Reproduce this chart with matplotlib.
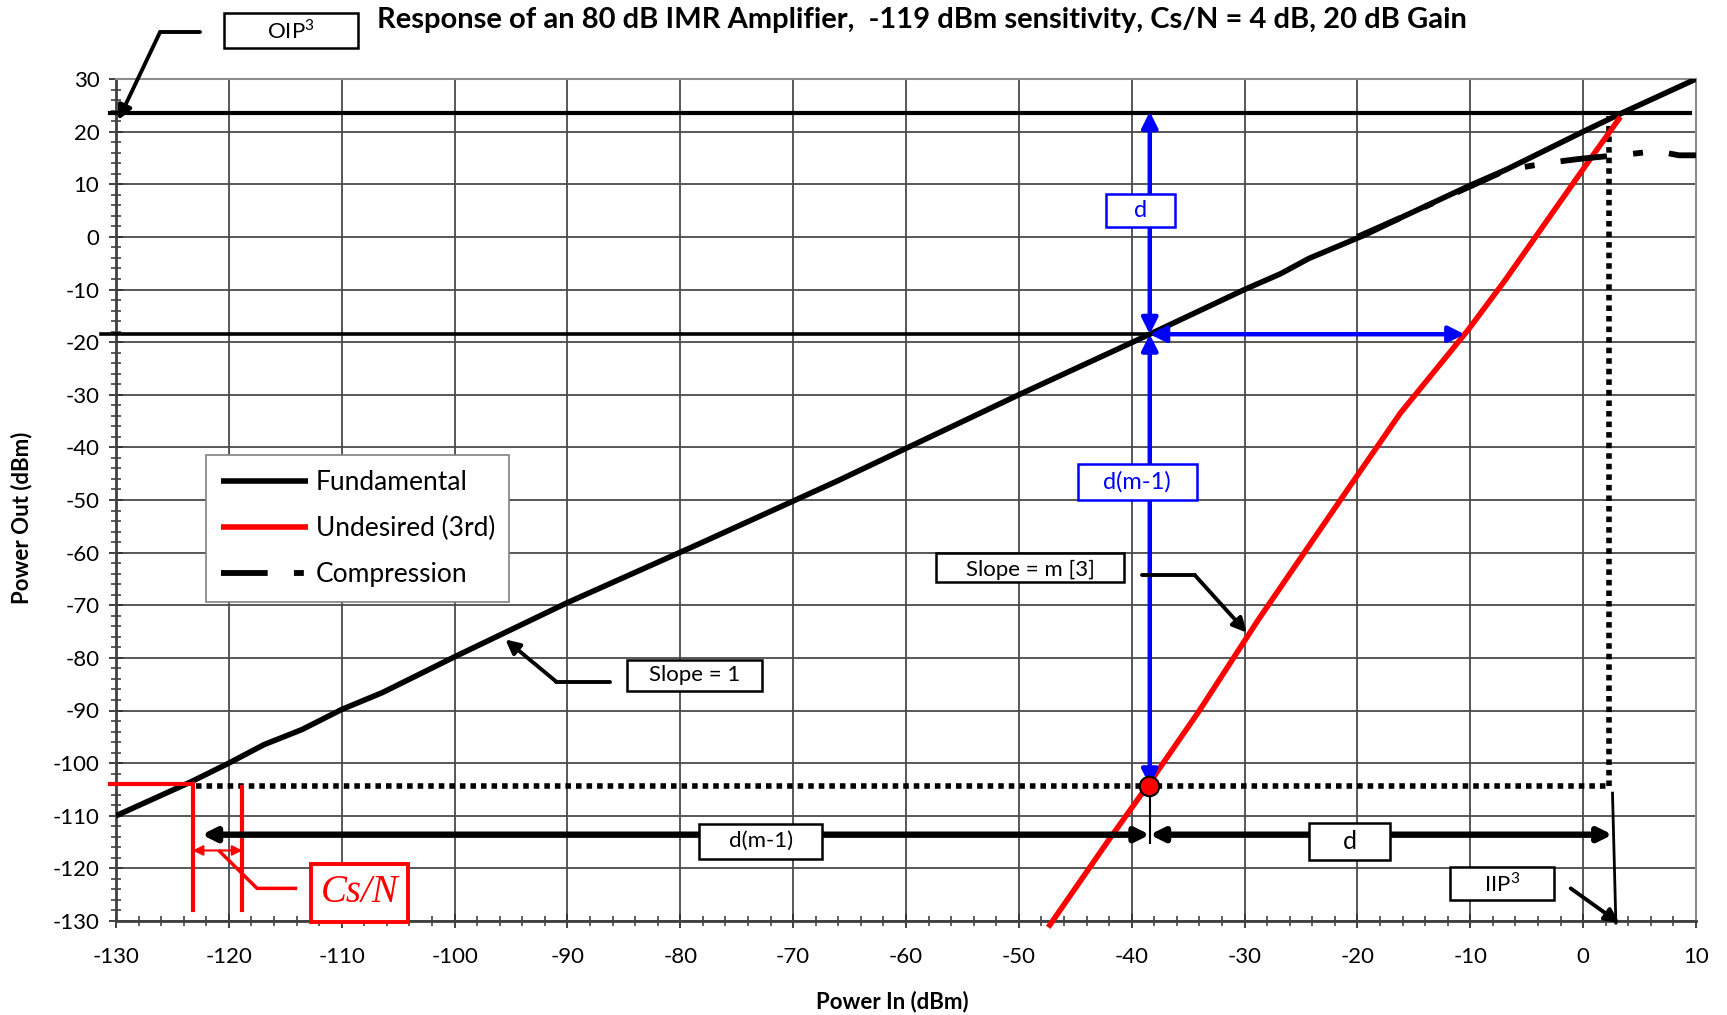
import matplotlib
matplotlib.use("Agg")
import matplotlib.pyplot as plt
from matplotlib.patches import Rectangle
from matplotlib.lines import Line2D
from matplotlib.ticker import MultipleLocator

plt.rcParams['font.family'] = ['Lato', 'DejaVu Sans']
plt.rcParams['axes.unicode_minus'] = False
plt.rcParams['mathtext.fontset'] = 'custom'
plt.rcParams['mathtext.rm'] = 'Lato'

# ---- data ----
fund_x = [-130, -123.4, -120, -116.9, -113.5, -110, -106.4, -100, -90, -78.3, -66, -50,
          -38.7, -30, -26.8, -24.3, -19.3, -16.2, -10, -6.8, 0, 3.3, 10]
fund_y = [-110, -103.6, -100, -96.5, -93.6, -89.8, -86.6, -79.8, -69.5, -58.3, -46.3, -30,
          -18.8, -10, -7.0, -4.1, 0.4, 3.6, 9.8, 12.8, 20, 23.4, 30]

comp_x = [-20, -16, -10, -6.8, -3, 0, 4, 6.5, 8.5, 10]
comp_y = [0, 3.8, 9.6, 12.7, 14.1, 14.9, 15.7, 16.3, 15.5, 15.5]

im3_x = [-47.4, -42, -38.6, -34, -28.8, -20.9, -16.2, -10.2, -6.9, 0.4, 3.3]
im3_y = [-131.2, -114.5, -104.3, -90, -72.8, -48.1, -33.5, -17.7, -8.2, 14.1, 22.8]

series_names = ["Fundamental", "Undesired (3rd)", "Compression"]

# key levels (dBm)
oip3 = 23.5          # output intercept
iip3 = 2.6           # input intercept
mds_in = -38.4       # input where the 3rd order hits the floor
floor_out = -104.3   # output noise floor + Cs/N
fund_at_mds = -18.5  # fundamental output at mds_in
im3_at_fund = -10.5  # where the 3rd reaches fund_at_mds
noise_in = -123.2    # input where fundamental hits floor
sens_in = -118.8     # sensitivity line
arrow_lvl = -113.6

title = "Response of an 80 dB IMR Amplifier,  -119 dBm sensitivity, Cs/N = 4 dB, 20 dB Gain"

fig = plt.figure(figsize=(17.27, 10.15), dpi=100)
ax = fig.add_axes([116 / 1727, 94 / 1015, 1580 / 1727, 842 / 1015])

ax.plot(fund_x, fund_y, color='black', lw=4.0, zorder=4, label=series_names[0], solid_capstyle='butt')
ax.plot(im3_x, im3_y, color='#ff0000', lw=4.0, zorder=4, label=series_names[1], clip_on=False,
        solid_capstyle='butt')
ax.plot(comp_x, comp_y, color='black', lw=4.2, zorder=4, label=series_names[2],
        dashes=(8, 4.5, 1.7, 4.5), dash_capstyle='butt')

ax.set_xlim(-130, 10)
ax.set_ylim(-130, 30)
ax.xaxis.set_major_locator(MultipleLocator(10))
ax.yaxis.set_major_locator(MultipleLocator(10))
ax.xaxis.set_minor_locator(MultipleLocator(2))
ax.yaxis.set_minor_locator(MultipleLocator(2))
ax.grid(True, which='major', color='#4a4a4a', lw=1.3, zorder=1)
ax.set_axisbelow(True)
ax.tick_params(which='major', direction='inout', length=10, width=1.3, color='#333333',
               labelsize=16)
ax.tick_params(which='minor', direction='inout', length=7, width=1.1, color='#333333')
ax.tick_params(axis='x', which='major', pad=14)
ax.tick_params(axis='y', which='major', pad=7)
for s in ['left', 'bottom']:
    ax.spines[s].set_color('#404040')
    ax.spines[s].set_linewidth(2)
for s in ['top', 'right']:
    ax.spines[s].set_color('#8c8c8c')
    ax.spines[s].set_linewidth(1.5)

fig.text(892 / 1727, 1 - 1002 / 1015, "Power In (dBm)", fontsize=16, fontweight='bold',
         ha='center', va='center')
fig.text(22 / 1727, 1 - 518 / 1015, "Power Out (dBm)", fontsize=16, fontweight='bold',
         ha='center', va='center', rotation=90)
fig.text(922 / 1727, 0.98, title, fontsize=21, fontweight='bold', ha='center', va='center')

# ---- reference lines ----
ax.plot([-130.5, 9.5], [oip3, oip3], color='black', lw=3.0, zorder=3, clip_on=False)
ax.plot([-131.3, mds_in], [fund_at_mds, fund_at_mds], color='black', lw=2.6, zorder=3,
        clip_on=False)
ax.plot([noise_in + 0.3, iip3 - 0.3], [floor_out, floor_out], color='black', lw=4,
        ls=(0, (1, 0.9)), zorder=3)
ax.plot([iip3 - 0.3, iip3 - 0.3], [floor_out, oip3 - 0.5], color='black', lw=4,
        ls=(0, (1, 0.9)), zorder=3)

# red Cs/N marks
red = '#ff0000'
ax.plot([-130.5, noise_in, noise_in], [floor_out + 0.4, floor_out + 0.4, -127.9], color=red,
        lw=3, zorder=5, clip_on=False, solid_joinstyle='miter')
ax.plot([sens_in, sens_in], [floor_out - 0.3, -127.9], color=red, lw=3, zorder=5)
ax.annotate('', xy=(noise_in, -116.6), xytext=(sens_in, -116.6),
            arrowprops=dict(arrowstyle='<|-|>,head_length=0.5,head_width=0.25', color=red,
                            lw=1.5, shrinkA=0, shrinkB=0, mutation_scale=12), zorder=5)
ax.plot([-120.8, -117.5, -114.1], [-116.8, -123.8, -123.8], color=red, lw=2.5, zorder=5)
ax.add_patch(Rectangle((-112.7, -130.1), 8.6, 10.9, fc='white', ec=red, lw=2.8, zorder=6,
                       clip_on=False))
ax.text(-108.4, -124.6, "Cs/N", color=red, fontsize=28, family=['Liberation Serif', 'DejaVu Serif'],
        style='italic', ha='center', va='center', zorder=7)

# ---- blue construction ----
blue = '#0000ff'
bstyle = '<|-|>,head_length=0.6,head_width=0.3'
ax.annotate('', xy=(mds_in, oip3 + 0.3), xytext=(mds_in, fund_at_mds),
            arrowprops=dict(arrowstyle=bstyle, color=blue, lw=3.2, shrinkA=0, shrinkB=0,
                            mutation_scale=16), zorder=5)
ax.annotate('', xy=(mds_in, fund_at_mds), xytext=(mds_in, floor_out),
            arrowprops=dict(arrowstyle=bstyle, color=blue, lw=3.2, shrinkA=0, shrinkB=0,
                            mutation_scale=16), zorder=5)
ax.annotate('', xy=(mds_in, fund_at_mds), xytext=(im3_at_fund, fund_at_mds),
            arrowprops=dict(arrowstyle=bstyle, color=blue, lw=3.2, shrinkA=0, shrinkB=0,
                            mutation_scale=16), zorder=5)

# red dot at the floor crossing
ax.plot([mds_in - 0.1], [floor_out], marker='o', ms=14, mfc=red, mec='black', mew=1.5,
        zorder=8, ls='none')

# ---- black dimension arrows ----
kstyle = '<|-|>,head_length=0.5,head_width=0.25'
ax.annotate('', xy=(-122.4, arrow_lvl), xytext=(mds_in, arrow_lvl),
            arrowprops=dict(arrowstyle=kstyle, color='black', lw=4.6, shrinkA=0, shrinkB=0,
                            mutation_scale=16), zorder=5)
ax.annotate('', xy=(mds_in, arrow_lvl), xytext=(iip3, arrow_lvl),
            arrowprops=dict(arrowstyle=kstyle, color='black', lw=4.6, shrinkA=0, shrinkB=0,
                            mutation_scale=16), zorder=5)
ax.plot([mds_in, mds_in], [-105.7, -115.2], color='black', lw=1.5, zorder=5)
ax.plot([iip3, iip3 + 0.3], [-105.7, -130.4], color='black', lw=2, zorder=5, clip_on=False)


def box(x0, x1, y0, y1, txt, color='black', fs=16, lw=1.8, dy=0.0):
    ax.add_patch(Rectangle((x0, y0), x1 - x0, y1 - y0, fc='white', ec=color, lw=lw,
                           zorder=6, clip_on=False))
    ax.text((x0 + x1) / 2, (y0 + y1) / 2 + dy, txt, color=color, fontsize=fs, ha='center',
            va='center', zorder=7, clip_on=False)


def leader(xs, ys):
    ax.add_line(Line2D(xs[:-1], ys[:-1], color='black', lw=2.8, zorder=5, clip_on=False,
                       solid_capstyle='round'))
    ax.annotate('', xy=(xs[-1], ys[-1]), xytext=(xs[-2], ys[-2]),
                arrowprops=dict(arrowstyle='-|>,head_length=0.6,head_width=0.3', color='black',
                                lw=2.8, shrinkA=0, shrinkB=0, mutation_scale=14),
                annotation_clip=False, zorder=5)


box(-78.3, -67.4, -118.2, -111.5, "d(m-1)")
box(-24.3, -17.1, -118.5, -111.3, "d", fs=18)
box(-42.3, -36.2, 1.8, 8.1, "d", color=blue, fs=17)
box(-44.8, -34.2, -50.0, -43.2, "d(m-1)", color=blue, fs=17)
box(-57.3, -40.7, -65.5, -60.0, "Slope = m [3]", dy=-0.6)
box(-84.7, -72.8, -86.2, -80.4, "Slope = 1")
box(-11.8, -2.6, -126.0, -119.7, "IIP$^{3}$")
box(-120.4, -108.6, 35.8, 42.5, "OIP$^{3}$")

leader([-39.1, -34.4, -29.8], [-64.3, -64.3, -75.2])
leader([-86.2, -91.0, -95.5], [-84.5, -84.5, -76.5])
leader([-122.6, -126.1, -129.8], [38.9, 38.9, 22.2])
leader([-1.1, 3.2], [-123.8, -130.4])

leg = ax.legend(loc='upper left', bbox_to_anchor=(0.057, 0.553), fontsize=19, frameon=True,
                fancybox=False, framealpha=1, edgecolor='#808080', handlelength=3.3,
                handletextpad=0.3, borderpad=0.55, borderaxespad=0, labelspacing=0.8)
leg.get_frame().set_linewidth(1.2)
leg.set_zorder(9)

fig.savefig("out.png", dpi=100)
